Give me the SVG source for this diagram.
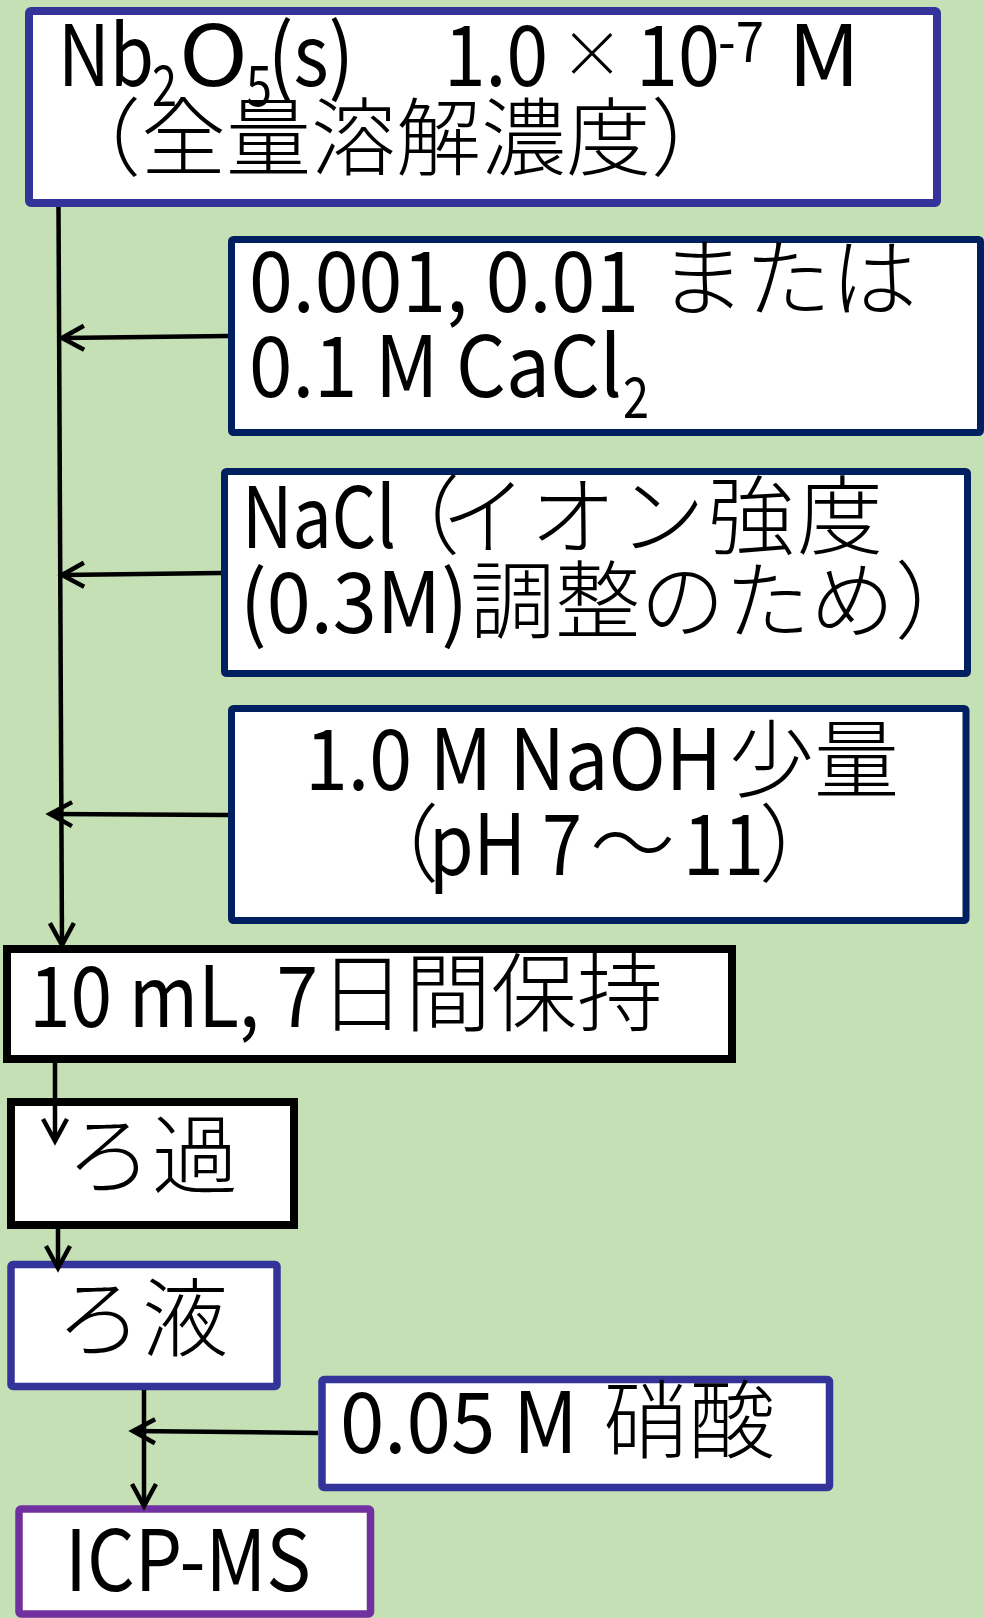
<svg xmlns="http://www.w3.org/2000/svg" width="984" height="1618" viewBox="0 0 984 1618">
<defs>
<marker id="ah" markerUnits="userSpaceOnUse" markerWidth="40" markerHeight="40" viewBox="-30 -20 40 40" refX="0" refY="0" orient="auto" overflow="visible">
<path d="M -22 -12 L 0 0 L -22 12" fill="none" stroke="#000" stroke-width="4.5"/>
</marker>
<style>
.t{font-family:"Noto Sans CJK JP","Noto Sans",sans-serif;fill:#000}
.l{font-size:84px}
.c{font-size:86px;font-weight:300}
.j{font-weight:300}
.s{font-size:56px}
.box{fill:#fff}
.conn path{stroke:#000;stroke-width:4.5;fill:none;marker-end:url(#ah)}
</style>
</defs>
<rect width="984" height="1618" fill="#C5E0B4"/>

<g id="node-nb2o5">
<rect class="box" x="29" y="11" width="908" height="192" rx="2" stroke="#333399" stroke-width="8"/>
<text class="t l" x="58" y="86" textLength="96" lengthAdjust="spacingAndGlyphs">Nb</text>
<text class="t s" x="152" y="106" textLength="25" lengthAdjust="spacingAndGlyphs">2</text>
<text class="t l" x="179" y="86" textLength="69" lengthAdjust="spacingAndGlyphs">O</text>
<text class="t s" x="246" y="106" textLength="26" lengthAdjust="spacingAndGlyphs">5</text>
<text class="t l" x="268" y="86" textLength="86" lengthAdjust="spacingAndGlyphs">(s)</text>
<text class="t l" x="444" y="86" textLength="104" lengthAdjust="spacingAndGlyphs">1.0</text>
<text class="t j" x="592" y="77" font-size="64" text-anchor="middle">×</text>
<text class="t l" x="636" y="86" textLength="84" lengthAdjust="spacingAndGlyphs">10</text>
<text class="t s" x="718" y="62" textLength="46" lengthAdjust="spacingAndGlyphs">-7</text>
<text class="t l" x="788" y="86" textLength="72" lengthAdjust="spacingAndGlyphs">M</text>
<text class="t j" x="56" y="169" font-size="85">（全量溶解濃度）</text>
</g>

<g id="node-cacl2">
<rect class="box" x="231.5" y="239.5" width="749" height="193" rx="2" stroke="#002060" stroke-width="7"/>
<text class="t l" x="249" y="312" textLength="390" lengthAdjust="spacingAndGlyphs">0.001, 0.01</text>
<text class="t c" x="659" y="310">または</text>
<text class="t l" x="249" y="397" textLength="373" lengthAdjust="spacingAndGlyphs">0.1 M CaCl</text>
<text class="t s" x="623" y="418" textLength="26" lengthAdjust="spacingAndGlyphs">2</text>
</g>

<g id="node-nacl">
<rect class="box" x="224.5" y="471.5" width="743" height="202" rx="2" stroke="#002060" stroke-width="7"/>
<text class="t l" x="242" y="548" textLength="154" lengthAdjust="spacingAndGlyphs">NaCl</text>
<text class="t j" x="374" y="548" font-size="86">（</text>
<text class="t j" x="441" y="548" font-size="86" letter-spacing="3">イオン強度</text>
<text class="t l" x="240" y="633" textLength="228" lengthAdjust="spacingAndGlyphs">(0.3M)</text>
<text class="t j" x="470" y="632" font-size="85">調整のため）</text>
</g>

<g id="node-naoh">
<rect class="box" x="231.5" y="708.5" width="734.5" height="212" rx="2" stroke="#002060" stroke-width="7"/>
<text class="t l" x="305" y="790" textLength="417" lengthAdjust="spacingAndGlyphs">1.0 M NaOH</text>
<text class="t j" x="729" y="791" font-size="85">少量</text>
<text class="t j" x="354" y="875" font-size="85">（</text>
<text class="t l" x="429" y="875" textLength="153" lengthAdjust="spacingAndGlyphs">pH 7</text>
<text class="t j" x="590" y="875" font-size="85">～</text>
<text class="t l" x="683" y="875" textLength="81" lengthAdjust="spacingAndGlyphs">11</text>
<text class="t j" x="759" y="875" font-size="85">）</text>
</g>

<g id="node-hold">
<rect class="box" x="7" y="949" width="725" height="110" stroke="#000" stroke-width="8"/>
<text class="t l" x="29" y="1027" textLength="289" lengthAdjust="spacingAndGlyphs">10 mL, 7</text>
<text class="t c" x="319" y="1025">日間保持</text>
</g>

<g id="node-filtration">
<rect class="box" x="11" y="1102" width="283" height="123" stroke="#000" stroke-width="8"/>
<text class="t c" x="66" y="1187">ろ過</text>
</g>

<g id="node-filtrate">
<rect class="box" x="11" y="1264.5" width="266" height="122" rx="2" stroke="#333399" stroke-width="7.5"/>
<text class="t c" x="56" y="1350">ろ液</text>
</g>

<g id="node-hno3">
<rect class="box" x="322" y="1379.5" width="507.5" height="108" rx="2" stroke="#333399" stroke-width="7.5"/>
<text class="t l" x="340" y="1453" textLength="238" lengthAdjust="spacingAndGlyphs">0.05 M</text>
<text class="t c" x="603" y="1452">硝酸</text>
</g>

<g id="node-icpms">
<rect class="box" x="19" y="1509" width="351.5" height="105" rx="2" stroke="#7030A0" stroke-width="7.5"/>
<text class="t l" x="65" y="1591" textLength="246" lengthAdjust="spacingAndGlyphs">ICP-MS</text>
</g>

<g id="connectors" class="conn">
<path d="M 58.5 207 L 62 945"/>
<path d="M 228 336 L 62 338"/>
<path d="M 221 573 L 62 575"/>
<path d="M 228 815 L 50 814"/>
<path d="M 55 1063 L 55 1141"/>
<path d="M 58 1228 L 58 1268"/>
<path d="M 144 1390 L 144 1506"/>
<path d="M 318 1433 L 133 1431"/>
</g>
</svg>
